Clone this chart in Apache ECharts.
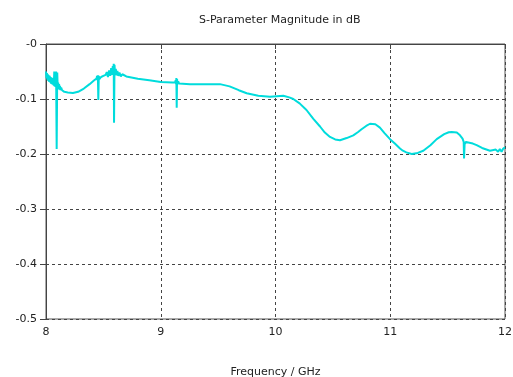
<!DOCTYPE html>
<html>
<head>
<meta charset="utf-8">
<script src="https://cdn.jsdelivr.net/npm/echarts@6/dist/echarts.min.js"></script>
<style>
  html, body { margin: 0; padding: 0; background: #fff; }
  #chart { width: 513px; height: 377px; }
</style>
</head>
<body>
<div id="chart"></div>
<script>
// Frequency points (GHz) and S-parameter magnitude (dB)
var freqGHz = [
  8.000, 8.004, 8.008, 8.012, 8.016, 8.020, 8.024, 8.028, 8.032, 8.036,
  8.040, 8.044, 8.048, 8.052, 8.056, 8.060, 8.064, 8.068, 8.072, 8.076,
  8.080, 8.084, 8.088, 8.093, 8.098, 8.102, 8.106, 8.110, 8.114, 8.118,
  8.122, 8.126, 8.132, 8.140, 8.150, 8.160, 8.190, 8.235, 8.280, 8.330,
  8.380, 8.420, 8.440, 8.445, 8.450, 8.452, 8.456, 8.460, 8.465, 8.480,
  8.500, 8.520, 8.530, 8.540, 8.550, 8.560, 8.568, 8.575, 8.582, 8.587,
  8.590, 8.593, 8.597, 8.602, 8.608, 8.615, 8.622, 8.630, 8.640, 8.652,
  8.665, 8.700, 8.800, 8.900, 9.000, 9.100, 9.125, 9.130, 9.134, 9.136,
  9.139, 9.142, 9.146, 9.152, 9.160, 9.255, 9.400, 9.516, 9.600, 9.680,
  9.749, 9.850, 9.952, 10.010, 10.068, 10.120, 10.155, 10.210, 10.270, 10.330,
  10.388, 10.430, 10.475, 10.520, 10.562, 10.620, 10.678, 10.720, 10.750, 10.790,
  10.824, 10.870, 10.910, 10.950, 10.998, 11.040, 11.085, 11.110, 11.140, 11.187,
  11.240, 11.288, 11.350, 11.405, 11.470, 11.510, 11.535, 11.580, 11.608, 11.630,
  11.640, 11.643, 11.648, 11.660, 11.680, 11.720, 11.753, 11.800, 11.869, 11.920,
  11.940, 11.955, 11.970, 11.985, 12.000
];
var magnitudeDb = [
  -0.050, -0.062, -0.053, -0.065, -0.055, -0.067, -0.057, -0.069, -0.058, -0.070,
  -0.060, -0.072, -0.061, -0.073, -0.062, -0.074, -0.064, -0.076, -0.050, -0.077,
  -0.066, -0.078, -0.050, -0.191, -0.052, -0.080, -0.070, -0.082, -0.073, -0.083,
  -0.076, -0.084, -0.079, -0.084, -0.083, -0.087, -0.088, -0.089, -0.087, -0.081,
  -0.073, -0.066, -0.063, -0.058, -0.066, -0.057, -0.102, -0.058, -0.064, -0.060,
  -0.058, -0.056, -0.051, -0.060, -0.048, -0.058, -0.044, -0.056, -0.040, -0.052,
  -0.036, -0.143, -0.038, -0.054, -0.045, -0.057, -0.049, -0.058, -0.052, -0.059,
  -0.055, -0.059, -0.063, -0.066, -0.069, -0.070, -0.070, -0.066, -0.073, -0.062,
  -0.116, -0.064, -0.073, -0.068, -0.072, -0.073, -0.073, -0.073, -0.077, -0.084,
  -0.0895, -0.094, -0.096, -0.095, -0.094, -0.097, -0.100, -0.108, -0.120, -0.136,
  -0.150, -0.161, -0.169, -0.1735, -0.175, -0.171, -0.166, -0.160, -0.155, -0.149,
  -0.145, -0.146, -0.152, -0.162, -0.173, -0.181, -0.190, -0.194, -0.197, -0.200,
  -0.198, -0.194, -0.184, -0.173, -0.164, -0.1605, -0.160, -0.161, -0.166, -0.172,
  -0.178, -0.208, -0.182, -0.178, -0.179, -0.181, -0.184, -0.189, -0.194, -0.192,
  -0.196, -0.191, -0.196, -0.190, -0.188
];
var xTicks = [8, 9, 10, 11, 12];
var yTickLabels = ['-0.5', '-0.4', '-0.3', '-0.2', '-0.1', '-0'];

var seriesData = freqGHz.map(function (f, i) { return [f, magnitudeDb[i]]; });

var FONT = 'DejaVu Sans';
var TEXT = '#222';

var chart = echarts.init(document.getElementById('chart'), null, { renderer: 'canvas' });
chart.setOption({
  animation: false,
  backgroundColor: '#fff',
  title: {
    text: 'S-Parameter Magnitude in dB',
    left: 194,
    top: 10,
    textStyle: { fontFamily: FONT, fontSize: 11, fontWeight: 'normal', color: TEXT }
  },
  grid: {
    left: 46, right: 8, top: 44, bottom: 58,
    show: true, borderColor: '#555', borderWidth: 1,
    containLabel: false,
    outerBoundsMode: 'none'
  },
  xAxis: {
    type: 'value',
    min: xTicks[0], max: xTicks[xTicks.length - 1], interval: 1,
    name: 'Frequency / GHz',
    nameLocation: 'middle',
    nameGap: 48,
    nameTextStyle: { fontFamily: FONT, fontSize: 11, color: TEXT },
    axisLine: { show: true, lineStyle: { color: '#444', width: 1 } },
    axisTick: { show: true, inside: false, length: 5, lineStyle: { color: '#444' } },
    axisLabel: { fontFamily: FONT, fontSize: 11, color: TEXT, margin: 8 },
    splitLine: { show: true, lineStyle: { color: '#444', type: [3, 3], width: 1 } }
  },
  yAxis: {
    type: 'value',
    min: -0.5, max: 0, interval: 0.1,
    axisLine: { show: true, lineStyle: { color: '#444', width: 1 } },
    axisTick: { show: true, inside: false, length: 6, lineStyle: { color: '#444' } },
    axisLabel: {
      fontFamily: FONT, fontSize: 11, color: TEXT, margin: 9,
      padding: [0, 0, 6, 0],
      formatter: function (v) {
        var idx = Math.round((v + 0.5) / 0.1);
        return yTickLabels[idx];
      }
    },
    splitLine: { show: true, lineStyle: { color: '#444', type: [3, 3], width: 1 } }
  },
  series: [{
    type: 'line',
    data: seriesData,
    showSymbol: false,
    smooth: false,
    lineStyle: { color: '#00dcdc', width: 2 },
    itemStyle: { color: '#00dcdc' },
    z: 3
  }]
});
</script>
</body>
</html>
